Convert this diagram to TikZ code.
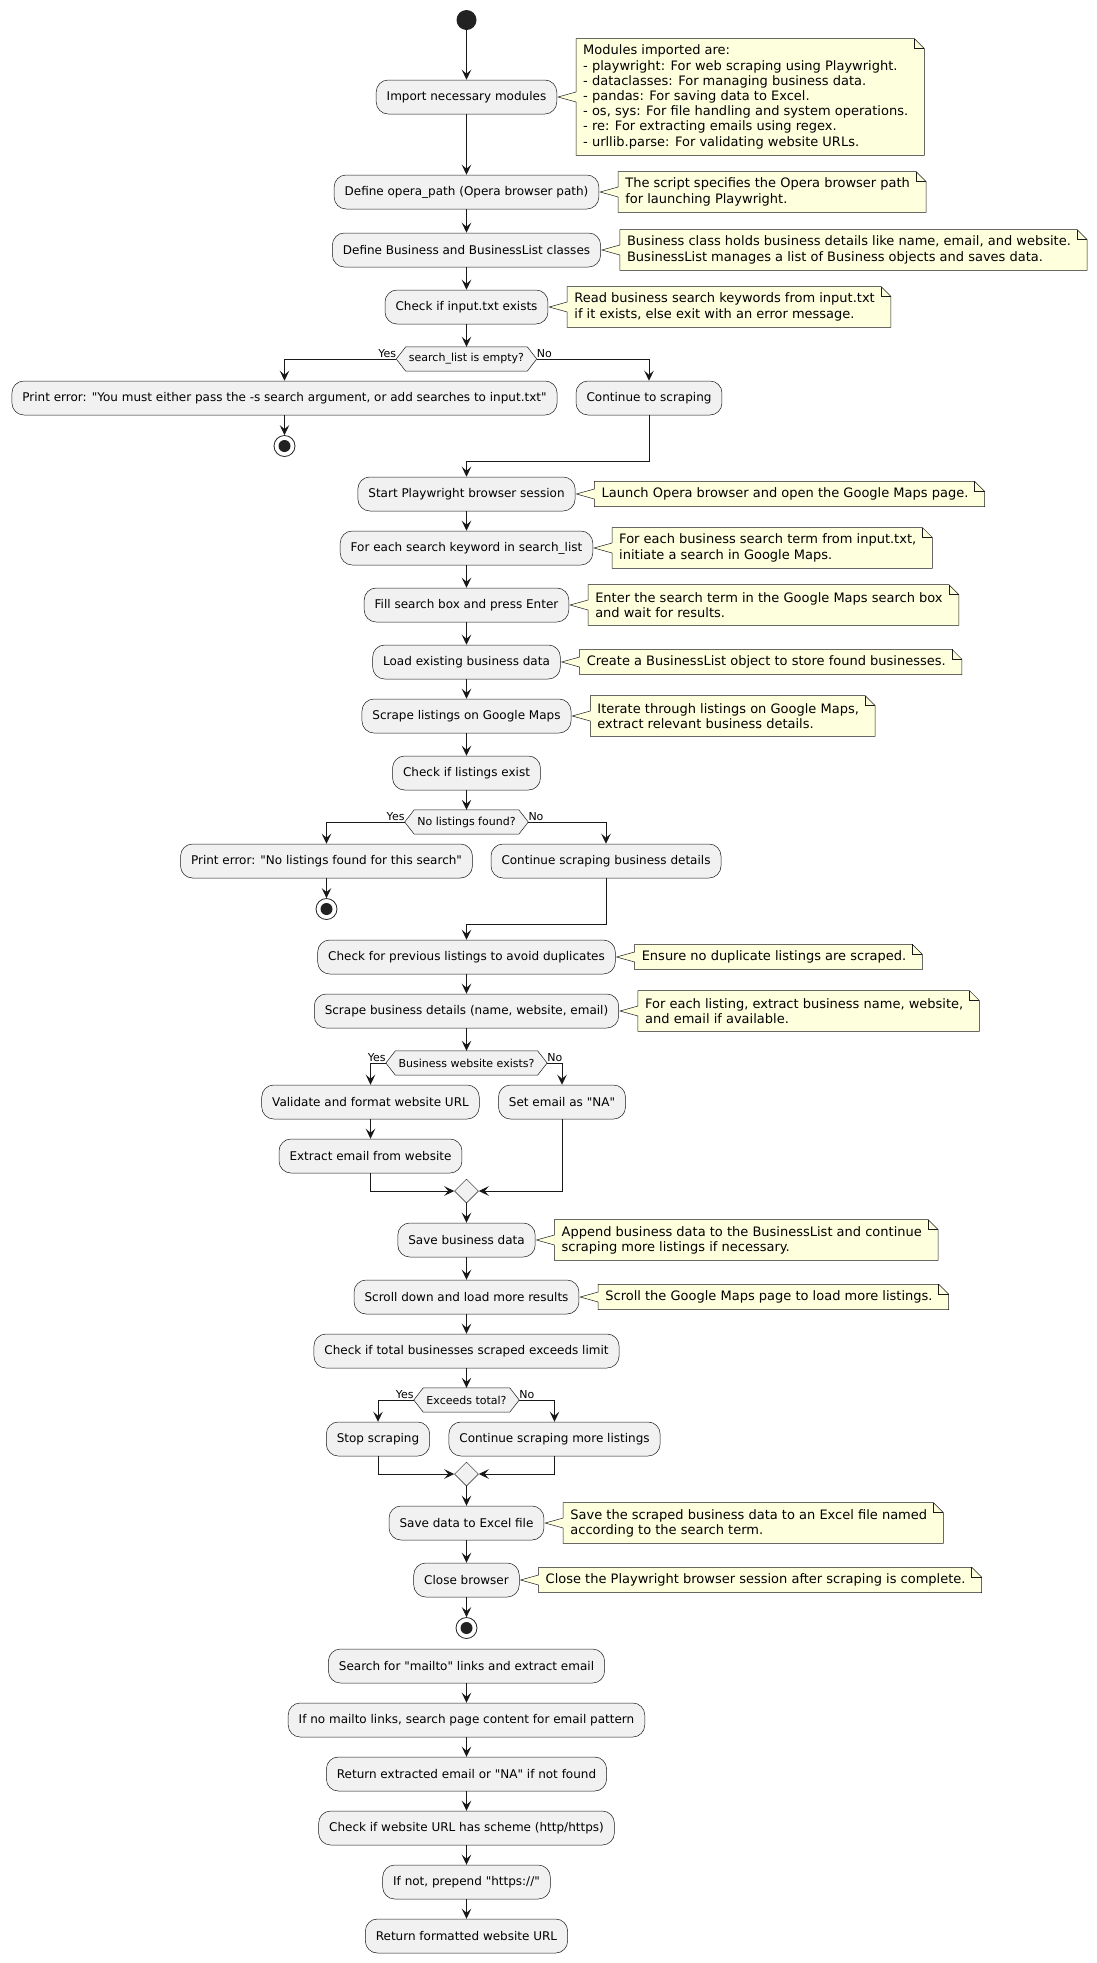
\documentclass[tikz,border=0pt]{standalone}
\usepackage{fontspec}
\setmainfont{DejaVu Sans}[Ligatures=TeXOff]
\usetikzlibrary{arrows.meta,calc,shapes.geometric,backgrounds}
\definecolor{boxfill}{HTML}{F1F1F1}
\definecolor{ink}{HTML}{181818}
\definecolor{notefill}{HTML}{FEFFDD}
\definecolor{dot}{HTML}{222222}
\tikzset{
  act/.style={draw=ink, line width=0.5pt, fill=boxfill, rounded corners=12pt, minimum height=34pt, inner xsep=10.5pt, inner ysep=0pt, font=\fontsize{12}{14}\selectfont},
  notetext/.style={minimum height=#1, inner xsep=0pt, inner ysep=0pt, align=left, anchor=west, font=\fontsize{13}{15.2}\selectfont},
  noteshape/.style={draw=ink, line width=0.5pt, fill=notefill},
  dectext/.style={font=\fontsize{11}{13}\selectfont, inner xsep=3pt, inner ysep=0pt, minimum height=24pt},
  hexa/.style={draw=ink, line width=0.5pt, fill=boxfill},
  merge/.style={diamond, draw=ink, line width=0.5pt, fill=boxfill, minimum width=24pt, minimum height=24pt, inner sep=0pt},
  startdot/.style={circle, fill=dot, minimum size=20pt, inner sep=0pt},
  stopdot/.style={circle, draw=dot, line width=0.8pt, fill=white, minimum size=21pt, inner sep=0pt},
  lbl/.style={font=\fontsize{11}{13}\selectfont, inner sep=0pt},
  arr/.style={draw=ink, line width=1pt, -{Stealth[length=10pt,width=9.5pt,inset=4pt]}},
}
\newcommand\notefor[2]{%
  \begin{pgfonlayer}{background}
  \draw[noteshape] let \p1=(#1.north west), \p2=(#1.south east), \p3=(#2.east) in
    (\x1-7pt,\y1) -- (\x2+6pt,\y1) -- (\x2+16pt,\y1-10pt) -- (\x2+16pt,\y2) -- (\x1-7pt,\y2)
    -- (\x1-7pt,\y3-5pt) -- (\x3+1pt,\y3) -- (\x1-7pt,\y3+5pt) -- cycle;
  \draw[ink, line width=0.5pt] let \p1=(#1.north west), \p2=(#1.south east) in
    (\x2+6pt,\y1) -- (\x2+6pt,\y1-10pt) -- (\x2+16pt,\y1-10pt);
  \end{pgfonlayer}}
\newcommand\decision[4]{%
  \node[dectext] (#1) at (#2,#3) {#4};
  \coordinate (#1-l) at ($(#1.west)+(-9.5,0)$);
  \coordinate (#1-r) at ($(#1.east)+(9.5,0)$);
  \begin{pgfonlayer}{background}
  \draw[hexa] (#1-l) -- (#1.north west) -- (#1.north east) -- (#1-r) -- (#1.south east) -- (#1.south west) -- cycle;
  \end{pgfonlayer}}
\newcommand\finaldisc[3]{%
  \node[stopdot] (#1) at (#2,#3) {};
  \fill[dot] (#1.center) circle (6pt);}
\begin{document}
\begin{tikzpicture}[x=1pt,y=-1pt]
\useasboundingbox (0,0) rectangle (1096,1963);
% top section
\node[startdot] (start) at (466.5,20) {};
\node[act] (import) at (466.5,97) {Import necessary modules};
\node[act] (opera) at (466.5,192) {Define opera\_path (Opera browser path)};
\node[act] (business) at (466.5,250) {Define Business and BusinessList classes};
\node[act] (checkin) at (466.5,307) {Check if input.txt exists};
\decision{dec1}{466.5}{359}{search\_list is empty?}
\node[act] (perr1) at (284.5,398) {Print error: "You must either pass the -s search argument, or add searches to input.txt"};
\finaldisc{end1}{284.5}{446}
\node[act] (cont1) at (649,398) {Continue to scraping};
\node[act] (startpw) at (466.5,494) {Start Playwright browser session};
\node[act] (foreach) at (466.5,548) {For each search keyword in search\_list};
\node[act] (fill) at (466.5,605) {Fill search box and press Enter};
\node[act] (load) at (466.5,662) {Load existing business data};
\node[act] (scrapel) at (466.5,716) {Scrape listings on Google Maps};
\node[act] (checkl) at (466.5,773) {Check if listings exist};
\decision{dec2}{466.5}{822}{No listings found?}
\node[act] (perr2) at (326.5,861) {Print error: "No listings found for this search"};
\finaldisc{end2}{326.5}{909}
\node[act] (cont2) at (606,861) {Continue scraping business details};
\node[act] (checkprev) at (466.5,957) {Check for previous listings to avoid duplicates};
\node[act] (details) at (466.5,1011) {Scrape business details (name, website, email)};
\decision{dec3}{466.5}{1063}{Business website exists?}
\node[act] (validate) at (370.5,1102) {Validate and format website URL};
\node[act] (setemail) at (562,1102) {Set email as "NA"};
\node[act] (extract) at (370.5,1156) {Extract email from website};
\node[merge] (m1) at (466.5,1191) {};
\node[act] (savebiz) at (466.5,1240) {Save business data};
\node[act] (scroll) at (466.5,1297) {Scroll down and load more results};
\node[act] (checktotal) at (466.5,1351) {Check if total businesses scraped exceeds limit};
\decision{dec4}{466.5}{1400}{Exceeds total?}
\node[act] (stop) at (378,1439) {Stop scraping};
\node[act] (contmore) at (554.5,1439) {Continue scraping more listings};
\node[merge] (m2) at (466.5,1474) {};
\node[act] (excel) at (466.5,1523) {Save data to Excel file};
\node[act] (close) at (466.5,1580) {Close browser};
\finaldisc{end3}{466.5}{1628}
\node[act] (mailto) at (466.5,1666) {Search for "mailto" links and extract email};
\node[act] (nomailto) at (466.5,1720) {If no mailto links, search page content for email pattern};
\node[act] (retext) at (466.5,1774) {Return extracted email or "NA" if not found};
\node[act] (checkurl) at (466.5,1828) {Check if website URL has scheme (http/https)};
\node[act] (prepend) at (466.5,1882) {If not, prepend "https://"};
\node[act] (retfmt) at (466.5,1936) {Return formatted website URL};

% notes
\node[notetext=116.5pt] (n1) at ($(import.east)+(26,0)$) {Modules imported are:\\- playwright: For web scraping using Playwright.\\- dataclasses: For managing business data.\\- pandas: For saving data to Excel.\\- os, sys: For file handling and system operations.\\- re: For extracting emails using regex.\\- urllib.parse: For validating website URLs.};
\notefor{n1}{import}
\node[notetext=40.5pt] (n2) at ($(opera.east)+(26,0)$) {The script specifies the Opera browser path\\for launching Playwright.};
\notefor{n2}{opera}
\node[notetext=40.5pt] (n3) at ($(business.east)+(26,0)$) {Business class holds business details like name, email, and website.\\BusinessList manages a list of Business objects and saves data.};
\notefor{n3}{business}
\node[notetext=40.5pt] (n4) at ($(checkin.east)+(26,0)$) {Read business search keywords from input.txt\\if it exists, else exit with an error message.};
\notefor{n4}{checkin}
\node[notetext=25pt] (n5) at ($(startpw.east)+(26,0)$) {Launch Opera browser and open the Google Maps page.};
\notefor{n5}{startpw}
\node[notetext=40.5pt] (n6) at ($(foreach.east)+(26,0)$) {For each business search term from input.txt,\\initiate a search in Google Maps.};
\notefor{n6}{foreach}
\node[notetext=40.5pt] (n7) at ($(fill.east)+(26,0)$) {Enter the search term in the Google Maps search box\\and wait for results.};
\notefor{n7}{fill}
\node[notetext=25pt] (n8) at ($(load.east)+(26,0)$) {Create a BusinessList object to store found businesses.};
\notefor{n8}{load}
\node[notetext=40.5pt] (n9) at ($(scrapel.east)+(26,0)$) {Iterate through listings on Google Maps,\\extract relevant business details.};
\notefor{n9}{scrapel}
\node[notetext=25pt] (n10) at ($(checkprev.east)+(26,0)$) {Ensure no duplicate listings are scraped.};
\notefor{n10}{checkprev}
\node[notetext=40.5pt] (n11) at ($(details.east)+(26,0)$) {For each listing, extract business name, website,\\and email if available.};
\notefor{n11}{details}
\node[notetext=40.5pt] (n12) at ($(savebiz.east)+(26,0)$) {Append business data to the BusinessList and continue\\scraping more listings if necessary.};
\notefor{n12}{savebiz}
\node[notetext=25pt] (n13) at ($(scroll.east)+(26,0)$) {Scroll the Google Maps page to load more listings.};
\notefor{n13}{scroll}
\node[notetext=40.5pt] (n14) at ($(excel.east)+(26,0)$) {Save the scraped business data to an Excel file named\\according to the search term.};
\notefor{n14}{excel}
\node[notetext=25pt] (n15) at ($(close.east)+(26,0)$) {Close the Playwright browser session after scraping is complete.};
\notefor{n15}{close}

% branch labels
\node[lbl, anchor=base east] (y1) at ($(dec1-l)+(0,-2)$) {Yes};
\node[lbl, anchor=base west] (no1) at ($(dec1-r)+(0,-2)$) {No};
\node[lbl, anchor=base east] (y2) at ($(dec2-l)+(0,-2)$) {Yes};
\node[lbl, anchor=base west] (no2) at ($(dec2-r)+(0,-2)$) {No};
\node[lbl, anchor=base east] (y3) at ($(dec3-l)+(0,-2)$) {Yes};
\node[lbl, anchor=base west] (no3) at ($(dec3-r)+(0,-2)$) {No};
\node[lbl, anchor=base east] (y4) at ($(dec4-l)+(0,-2)$) {Yes};
\node[lbl, anchor=base west] (no4) at ($(dec4-r)+(0,-2)$) {No};

% connectors
\draw[arr] (start.south) -- (import.north);
\draw[arr] (import.south) -- (opera.north);
\draw[arr] (opera.south) -- (business.north);
\draw[arr] (business.south) -- (checkin.north);
\draw[arr] (checkin.south) -- (dec1.north);
\draw[arr] (dec1-l) -| (perr1.north);
\draw[arr] (dec1-r) -| (cont1.north);
\draw[arr] (perr1.south) -- (end1.north);
\draw[arr] (cont1.south) |- ($(startpw.north)+(0,-15)$) -- (startpw.north);
\draw[arr] (startpw.south) -- (foreach.north);
\draw[arr] (foreach.south) -- (fill.north);
\draw[arr] (fill.south) -- (load.north);
\draw[arr] (load.south) -- (scrapel.north);
\draw[arr] (scrapel.south) -- (checkl.north);
\draw[arr] (checkl.south) -- (dec2.north);
\draw[arr] (dec2-l) -| (perr2.north);
\draw[arr] (dec2-r) -| (cont2.north);
\draw[arr] (perr2.south) -- (end2.north);
\draw[arr] (cont2.south) |- ($(checkprev.north)+(0,-15)$) -- (checkprev.north);
\draw[arr] (checkprev.south) -- (details.north);
\draw[arr] (details.south) -- (dec3.north);
\draw[arr] (dec3-l) -| (validate.north);
\draw[arr] (dec3-r) -| (setemail.north);
\draw[arr] (validate.south) -- (extract.north);
\draw[arr] (extract.south) |- (m1.west);
\draw[arr] (setemail.south) |- (m1.east);
\draw[arr] (m1.south) -- (savebiz.north);
\draw[arr] (savebiz.south) -- (scroll.north);
\draw[arr] (scroll.south) -- (checktotal.north);
\draw[arr] (checktotal.south) -- (dec4.north);
\draw[arr] (dec4-l) -| (stop.north);
\draw[arr] (dec4-r) -| (contmore.north);
\draw[arr] (stop.south) |- (m2.west);
\draw[arr] (contmore.south) |- (m2.east);
\draw[arr] (m2.south) -- (excel.north);
\draw[arr] (excel.south) -- (close.north);
\draw[arr] (close.south) -- (end3.north);
\draw[arr] (mailto.south) -- (nomailto.north);
\draw[arr] (nomailto.south) -- (retext.north);
\draw[arr] (retext.south) -- (checkurl.north);
\draw[arr] (checkurl.south) -- (prepend.north);
\draw[arr] (prepend.south) -- (retfmt.north);
\end{tikzpicture}
\end{document}
